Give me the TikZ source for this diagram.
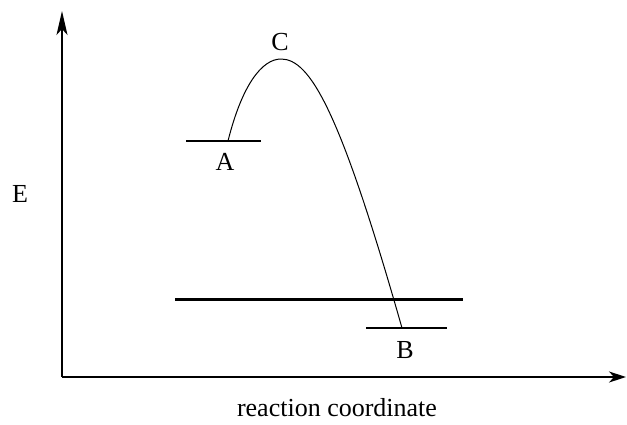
\documentclass[tikz,border=0pt]{standalone}
\usepackage{fontspec}
\setmainfont{Liberation Serif}
\usetikzlibrary{arrows.meta}
\begin{document}
\begin{tikzpicture}[x=1pt,y=-1pt,
  axis/.style={line width=1.4pt},
  level/.style={line width=1.5pt},
  thicklevel/.style={line width=3pt},
  lbl/.style={font=\fontsize{26}{30}\selectfont, inner sep=0pt}]
\useasboundingbox (0,0) rectangle (627,424);
\coordinate (O) at (62,377);
\coordinate (ytop) at (62,11);
\coordinate (xend) at (626,377);
\draw[axis,-{Stealth[length=24pt,width=11pt,inset=6pt]}] (O) -- (ytop);
\draw[axis,-{Stealth[length=17pt,width=11pt,inset=5pt]}] (O) -- (xend);
\coordinate (a1) at (186,141);
\coordinate (a2) at (261,141);
\coordinate (b1) at (366,328);
\coordinate (b2) at (447,328);
\coordinate (t1) at (175,299);
\coordinate (t2) at (463,299);
\coordinate (start) at (228,141);
\coordinate (peak) at (281,59);
\coordinate (end) at (402,328);
\draw[level] (a1) -- (a2);
\draw[level] (b1) -- (b2);
\draw[thicklevel] (t1) -- (t2);
\draw[line width=1pt] (start) .. controls (242,85) and (262,59) .. (peak)
  .. controls (310,59) and (340,110) .. (end);
\node[lbl] (C) at (280,42) {C};
\node[lbl] (A) at (225,162) {A};
\node[lbl] (B) at (405,350) {B};
\node[lbl] (E) at (20,194) {E};
\node[lbl] (rc) at (337,408) {reaction coordinate};
\end{tikzpicture}
\end{document}
